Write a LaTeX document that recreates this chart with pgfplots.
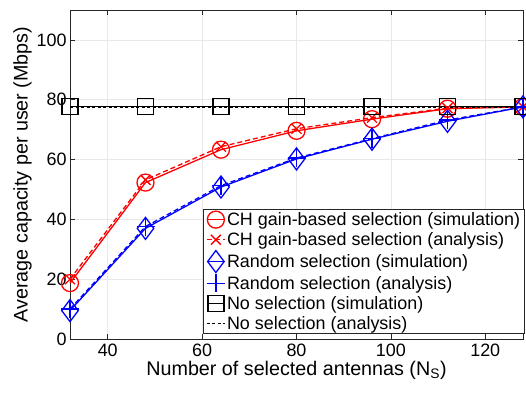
\documentclass[border=0pt]{standalone}
\usepackage{fontspec}
\setmainfont{Liberation Sans}
\usepackage{pgfplots}
\pgfplotsset{compat=1.18}
\definecolor{axgray}{gray}{0.15}
\definecolor{mred}{rgb}{1,0,0}
\definecolor{mblue}{rgb}{0,0,1}
\begin{document}
\begin{tikzpicture}
\begin{axis}[
 name=ax,
 scale only axis, width=453bp, height=329bp,
 xmin=32, xmax=128, ymin=0, ymax=110,
 xtick={40,60,80,100,120}, ytick={0,20,40,60,80,100},
 grid=major, grid style={gray!18, line width=0.6bp},
 axis line style={axgray, line width=0.7bp},
 tick style={axgray, line width=0.6bp},
 tick align=inside, major tick length=5bp,
 clip=false,
 /pgf/number format/assume math mode=true,
 tick label style={font=\fontsize{18}{21}\selectfont, text=black},
 xticklabel style={yshift=-1bp},
 label style={font=\fontsize{19.8}{23}\selectfont},
 xlabel style={yshift=2bp},
 ylabel style={yshift=-2bp},
 xlabel={Number of selected antennas (N\textsubscript{S})},
 ylabel={Average capacity per user (Mbps)},
 legend style={at={(1.003,0.015)}, anchor=south east, font=\fontsize{18}{20}\selectfont, draw=axgray, line width=0.6bp, inner xsep=2.5bp, inner ysep=1bp, row sep=1.6bp, fill=white, nodes={inner xsep=1.5bp}},
 legend cell align=left,
 legend image code/.code={\draw[mark repeat=2,mark phase=2,#1] plot coordinates {(0bp,0bp)(9bp,0bp)(18bp,0bp)};},
 every axis plot/.append style={line width=1.3bp},
]
\addplot[mred, mark=o, mark size=8.5bp, mark options={solid}] coordinates {(32,18.7)(48,52.3)(64,63.3)(80,69.6)(96,73.5)(112,77.0)(128,77.6)};
\addlegendentry{CH gain-based selection (simulation)}
\addplot[mred, dashed, dash pattern=on 5bp off 3bp, mark=x, mark size=7bp, mark options={solid}] coordinates {(32,20.0)(48,53.2)(64,64.3)(80,70.3)(96,74.0)(112,77.2)(128,77.6)};
\addlegendentry{CH gain-based selection (analysis)}
\addplot[mblue, mark=diamond, mark size=11bp, mark options={solid}] coordinates {(32,9.5)(48,37.0)(64,50.8)(80,60.2)(96,66.8)(112,72.8)(128,77.6)};
\addlegendentry{Random selection (simulation)}
\addplot[mblue, dashed, dash pattern=on 5bp off 3bp, mark=+, mark size=9bp, mark options={solid}] coordinates {(32,10.0)(48,37.6)(64,51.3)(80,60.5)(96,67.0)(112,73.2)(128,77.6)};
\addlegendentry{Random selection (analysis)}
\addplot[black, mark=square, mark size=8bp, mark options={solid}] coordinates {(32,77.8)(48,77.8)(64,77.8)(80,77.8)(96,77.8)(112,77.8)(128,77.8)};
\addlegendentry{No selection (simulation)}
\addplot[black, dashed, dash pattern=on 3bp off 2.5bp] coordinates {(32,77.3)(48,77.3)(64,77.3)(80,77.3)(96,77.3)(112,77.3)(128,77.3)};
\addlegendentry{No selection (analysis)}
\end{axis}
\pgfresetboundingbox
\useasboundingbox ([xshift=-70bp,yshift=-53bp]ax.south west) rectangle ([xshift=3bp,yshift=10bp]ax.north east);
\end{tikzpicture}
\end{document}
